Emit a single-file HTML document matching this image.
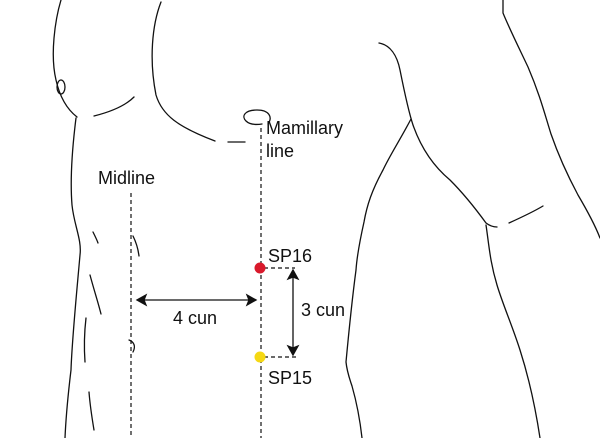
<!DOCTYPE html>
<html><head><style>
html,body{margin:0;padding:0;background:#fff;}
svg{display:block}
text{font-family:"Liberation Sans",sans-serif;font-size:18px;fill:#111;}
</style></head><body>
<svg width="600" height="438" viewBox="0 0 600 438" xmlns="http://www.w3.org/2000/svg">
<g fill="none" stroke="#111" stroke-width="1.3" stroke-linecap="round">
<path d="M61,0 C55,20 50,55 56,80 C60,98 68,110 77,117"/>
<path d="M76,118 C72,150 70,180 72,205 C74,225 82,240 80,255 C76,300 72,340 71,370 C68,395 66,415 65,438"/>
<ellipse cx="61" cy="87" rx="4" ry="7"/>
<path d="M94,116 C110,112 125,106 134,97"/>
<path d="M161,2 C152,25 149,60 156,95 C162,115 178,127 215,141"/>
<path d="M228,142 L245,142"/>
<path d="M268,124 C273,117 269,110 257,110 C245,110 241,116 246,121 C249,124 255,125 262,124"/>
<path d="M379,43 C390,45 397,55 400,70 C404,90 408,110 413,125 C420,145 432,165 450,180 C465,195 478,212 486,223 C490,226 494,227 497,227"/>
<path d="M509,223 C520,218 533,212 543,206"/>
<path d="M503,0 L503,13 C510,30 520,50 528,67 C540,95 545,115 551,134 C560,160 570,180 578,195 C588,212 595,225 600,238"/>
<path d="M411,119 C400,140 390,155 383,170 C372,190 367,205 364,222 C360,240 357,255 356,270 C352,300 349,330 346,362 C347,372 350,380 352,386 C356,400 360,420 362,438"/>
<path d="M486,225 C489,245 490,262 497,285 C503,305 512,325 520,350 C528,375 535,405 540,438"/>
<path d="M93,232 C95,236 97,240 98,243"/>
<path d="M133,236 C136,242 138,248 139,256"/>
<path d="M90,275 C94,290 98,302 101,314"/>
<path d="M86,318 C84,335 84,348 85,362"/>
<path d="M89,392 C90,405 92,418 94,430"/>
<path d="M129,340 C134,342 136,346 133,352"/>
</g>
<g fill="none" stroke="#111" stroke-width="1.2" stroke-dasharray="4,3">
<path d="M131,193 L131,438"/>
<path d="M261,128 L261,438"/>
<path d="M264,268 L295,268"/>
<path d="M264,357 L297,357"/>
</g>
<g stroke="#111" stroke-width="1.3" fill="#111">
<path d="M143,300 L250,300" fill="none"/>
<path d="M137,300 L146,295 L144,300 L146,305 Z"/>
<path d="M256,300 L247,295 L249,300 L247,305 Z"/>
<path d="M293,276 L293,349" fill="none"/>
<path d="M293,270 L288,279 L293,277 L298,279 Z"/>
<path d="M293,355 L288,346 L293,348 L298,346 Z"/>
</g>
<circle cx="260" cy="268" r="5.5" fill="#d9192b"/>
<circle cx="260" cy="357" r="5.5" fill="#f5d814"/>
<text x="98" y="184">Midline</text>
<text x="266" y="134">Mamillary</text>
<text x="266" y="157">line</text>
<text x="268" y="262">SP16</text>
<text x="268" y="384">SP15</text>
<text x="301" y="316">3 cun</text>
<text x="173" y="324">4 cun</text>
</svg>
</body></html>
